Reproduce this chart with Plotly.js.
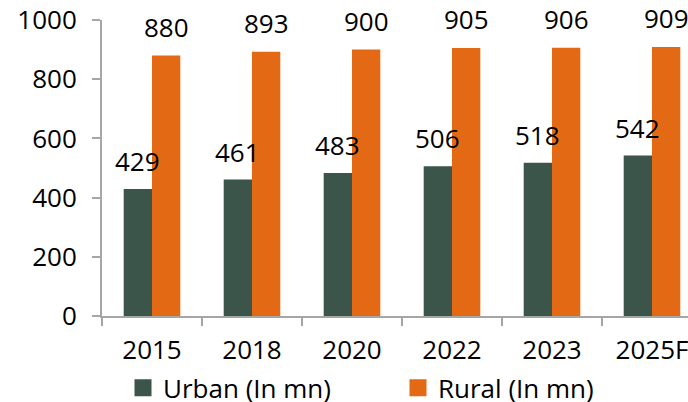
<!DOCTYPE html>
<html>
<head>
<meta charset="utf-8">
<script src="https://cdn.plot.ly/plotly-3.0.1.min.js"></script>
<style>
  html, body { margin: 0; padding: 0; overflow: hidden; background: #fff; }
  #chart { width: 720px; height: 402px; }
</style>
</head>
<body>
<div id="chart"></div>
<script>
// Population by area, millions
const years = ['2015', '2018', '2020', '2022', '2023', '2025F'];
const urban = [429, 461, 483, 506, 518, 542];
const rural = [880, 893, 900, 905, 906, 909];

const URBAN_COLOR = '#3b554a';
const RURAL_COLOR = '#e46915';
const AXIS_COLOR = '#a6a6a6';
const FONT = '"Open Sans", "Noto Sans", sans-serif';
const SIZE = 26;

const traces = [
  { type: 'bar', name: 'Urban (In mn)', x: years, y: urban,
    marker: { color: URBAN_COLOR }, hoverinfo: 'skip' },
  { type: 'bar', name: 'Rural (In mn)', x: years, y: rural,
    marker: { color: RURAL_COLOR }, hoverinfo: 'skip' }
];

// value labels above each bar, shifted onto its half of the group
// (x given as the category's position on the axis)
const HALF_BAR = 14.15;
const annotations = [];
years.forEach((yr, i) => {
  annotations.push({ x: i, y: urban[i], xref: 'x', yref: 'y', text: String(urban[i]),
    showarrow: false, xshift: -HALF_BAR, yshift: 8, yanchor: 'bottom',
    font: { family: FONT, size: SIZE, color: '#000' } });
  annotations.push({ x: i, y: rural[i], xref: 'x', yref: 'y', text: String(rural[i]),
    showarrow: false, xshift: HALF_BAR, yshift: 9, yanchor: 'bottom',
    font: { family: FONT, size: SIZE, color: '#000' } });
});

const layout = {
  width: 720, height: 402,
  margin: { l: 102, r: 18, t: 20, b: 86, autoexpand: false },
  paper_bgcolor: '#fff', plot_bgcolor: '#fff',
  font: { family: FONT, size: SIZE, color: '#000' },
  barmode: 'group', bargap: 0.434, bargroupgap: 0,
  showlegend: true,
  legend: { orientation: 'h', x: 0.035, xanchor: 'left', y: -0.243, yanchor: 'middle',
    font: { family: FONT, size: SIZE, color: '#000' }, entrywidth: 230, traceorder: 'normal' },
  xaxis: { type: 'category', range: [-0.5, years.length - 0.5], autorange: false,
    showline: true, linecolor: AXIS_COLOR, linewidth: 2,
    ticks: 'outside', tickson: 'boundaries', ticklen: 8, tickwidth: 2, tickcolor: AXIS_COLOR,
    ticklabelstandoff: 10, showgrid: false, zeroline: false, fixedrange: true },
  yaxis: { range: [0, 1000], autorange: false, dtick: 200, showline: true,
    linecolor: AXIS_COLOR, linewidth: 2,
    ticks: 'outside', ticklen: 8, tickwidth: 2, tickcolor: AXIS_COLOR,
    ticklabelstandoff: 10, showgrid: false, zeroline: false, fixedrange: true },
  annotations: annotations
};

Plotly.newPlot('chart', traces, layout, { displayModeBar: false, staticPlot: true })
  .then(gd => {
    // larger square swatches in the legend
    gd.querySelectorAll('.legend .legendpoints path').forEach(p => {
      p.setAttribute('d', 'M8.5,8.5H-8.5V-8.5H8.5Z');
    });
  });
</script>
</body>
</html>
